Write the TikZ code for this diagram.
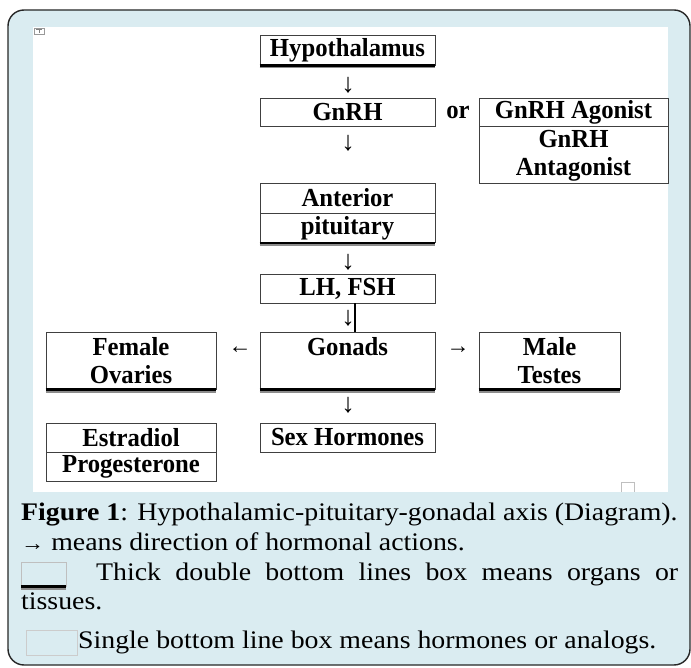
\documentclass[tikz,border=0pt]{standalone}
\usepackage{fontspec}
\setmainfont{Liberation Serif}
\newfontfamily\boxfont[FakeStretch=0.95]{Liberation Serif}
\newfontfamily\notefont[FakeStretch=1.1]{Liberation Serif}
\usetikzlibrary{positioning}
\definecolor{panelblue}{RGB}{218,236,241}
\definecolor{shadowgray}{RGB}{140,140,140}
\tikzset{
    cell-box/.style = {draw=black!75, fill=white, line width=0.8pt, rectangle, inner sep=0pt, align=center, font=\boxfont\bfseries\fontsize{26}{28}\selectfont},
    arrow-glyph/.style = {inner sep=0pt, font=\fontsize{27}{27}\selectfont},
    side-glyph/.style = {inner sep=0pt, font=\fontsize{23}{23}\selectfont},
    note-line/.style = {anchor=west, inner sep=0pt, font=\notefont\fontsize{25.3}{28}\selectfont},
}

\begin{document}
\begin{tikzpicture}[x=1pt, y=-1pt]
\useasboundingbox (0,0) rectangle (691,668);
% panel and white drawing area
\draw[fill=panelblue, draw=black!85, line width=1.4pt, rounded corners=16pt] (8,10) rectangle (690,665);
\fill[white] (33,27) rectangle (668,492);
\draw[black!40, line width=0.5pt] (34,28) rectangle (44,34);
\draw[black!50, line width=0.5pt] (36,29.5) -- (42,29.5) (39,29.5) -- (39,33);
\draw[black!25, line width=0.6pt] (621,492) -- (621,482) -- (634,482) -- (634,492);

% main axis
\node[cell-box, minimum width=175pt, minimum height=30pt] (hypo) at (347.5,50) {Hypothalamus};
\node[arrow-glyph] (arr-1) at (348,85) {↓};
\node[cell-box, minimum width=175pt, minimum height=28pt] (gnrh) at (347.5,112) {GnRH};
\node[font=\boxfont\bfseries\fontsize{26}{28}\selectfont, inner sep=0pt] (or) at (458,112) {or};
\node[cell-box, minimum width=189pt, minimum height=28pt] (agonist) at (573.5,112) {GnRH Agonist};
\node[cell-box, minimum width=189pt, minimum height=57pt, below=0pt of agonist] (antagonist) {GnRH\\Antagonist};
\node[arrow-glyph] (arr-2) at (348,143) {↓};
\node[cell-box, minimum width=175pt, minimum height=30pt] (anterior) at (347.5,198) {Anterior};
\node[cell-box, minimum width=175pt, minimum height=29pt, below=0pt of anterior] (pituitary) {pituitary};
\node[arrow-glyph] (arr-3) at (348,262) {↓};
\node[cell-box, minimum width=175pt, minimum height=29pt] (lhfsh) at (347.5,288.5) {LH, FSH};
\node[arrow-glyph] (arr-4) at (348,318) {↓};
\node[cell-box, minimum width=175pt, minimum height=57pt] (gonads) at (347.5,360.5) {Gonads\\\mbox{}};
\node[cell-box, minimum width=170pt, minimum height=57pt] (female) at (131,360.5) {Female\\Ovaries};
\node[cell-box, minimum width=141pt, minimum height=57pt] (male) at (549.5,360.5) {Male\\Testes};
\node[side-glyph] (arr-left) at (240,350) {←};
\node[side-glyph] (arr-right) at (458,350) {→};
\node[arrow-glyph] (arr-5) at (348,405) {↓};
\node[cell-box, minimum width=175pt, minimum height=29pt] (sexhorm) at (347.5,437.5) {Sex Hormones};
\node[cell-box, minimum width=170pt, minimum height=29pt] (estradiol) at (131,437.5) {Estradiol};
\node[cell-box, minimum width=170pt, minimum height=29pt, below=0pt of estradiol] (progesterone) {Progesterone};

\coordinate (stem) at ([xshift=7.5pt]lhfsh.south);
\draw[line width=1.2pt] (stem) -- (stem |- gonads.north);

% caption
\node[note-line] (cap-1) at (21,515) {\textbf{Figure 1}: Hypothalamic-pituitary-gonadal axis (Diagram).};
\node[note-line] (cap-2) at (21,542) {{\fontsize{21}{21}\selectfont →} means direction of hormonal actions.};
\node[draw=black!25, line width=0.5pt, inner sep=0pt, minimum width=45pt, minimum height=24pt] (key-organ) at (43.5,574.5) {};
\node[note-line] (cap-3) at (96,574) {\makebox[582pt][s]{Thick double bottom lines box means organs or}};
\node[note-line] (cap-4) at (21,601) {tissues.};
\node[draw=black!20, line width=0.5pt, inner sep=0pt, minimum width=51pt, minimum height=25pt] (key-hormone) at (51.5,642.5) {};
\node[note-line] (cap-5) at (78,642) {Single bottom line box means hormones or analogs.};

% thick double bottom lines for organs
\foreach \n in {hypo,pituitary,female,gonads,male,key-organ} {
    \draw[shadowgray, line width=1.8pt] ([yshift=-2.2pt]\n.south west) -- ([yshift=-2.2pt]\n.south east);
    \draw[line width=2.6pt] (\n.south west) -- (\n.south east);
}
\end{tikzpicture}
\end{document}
